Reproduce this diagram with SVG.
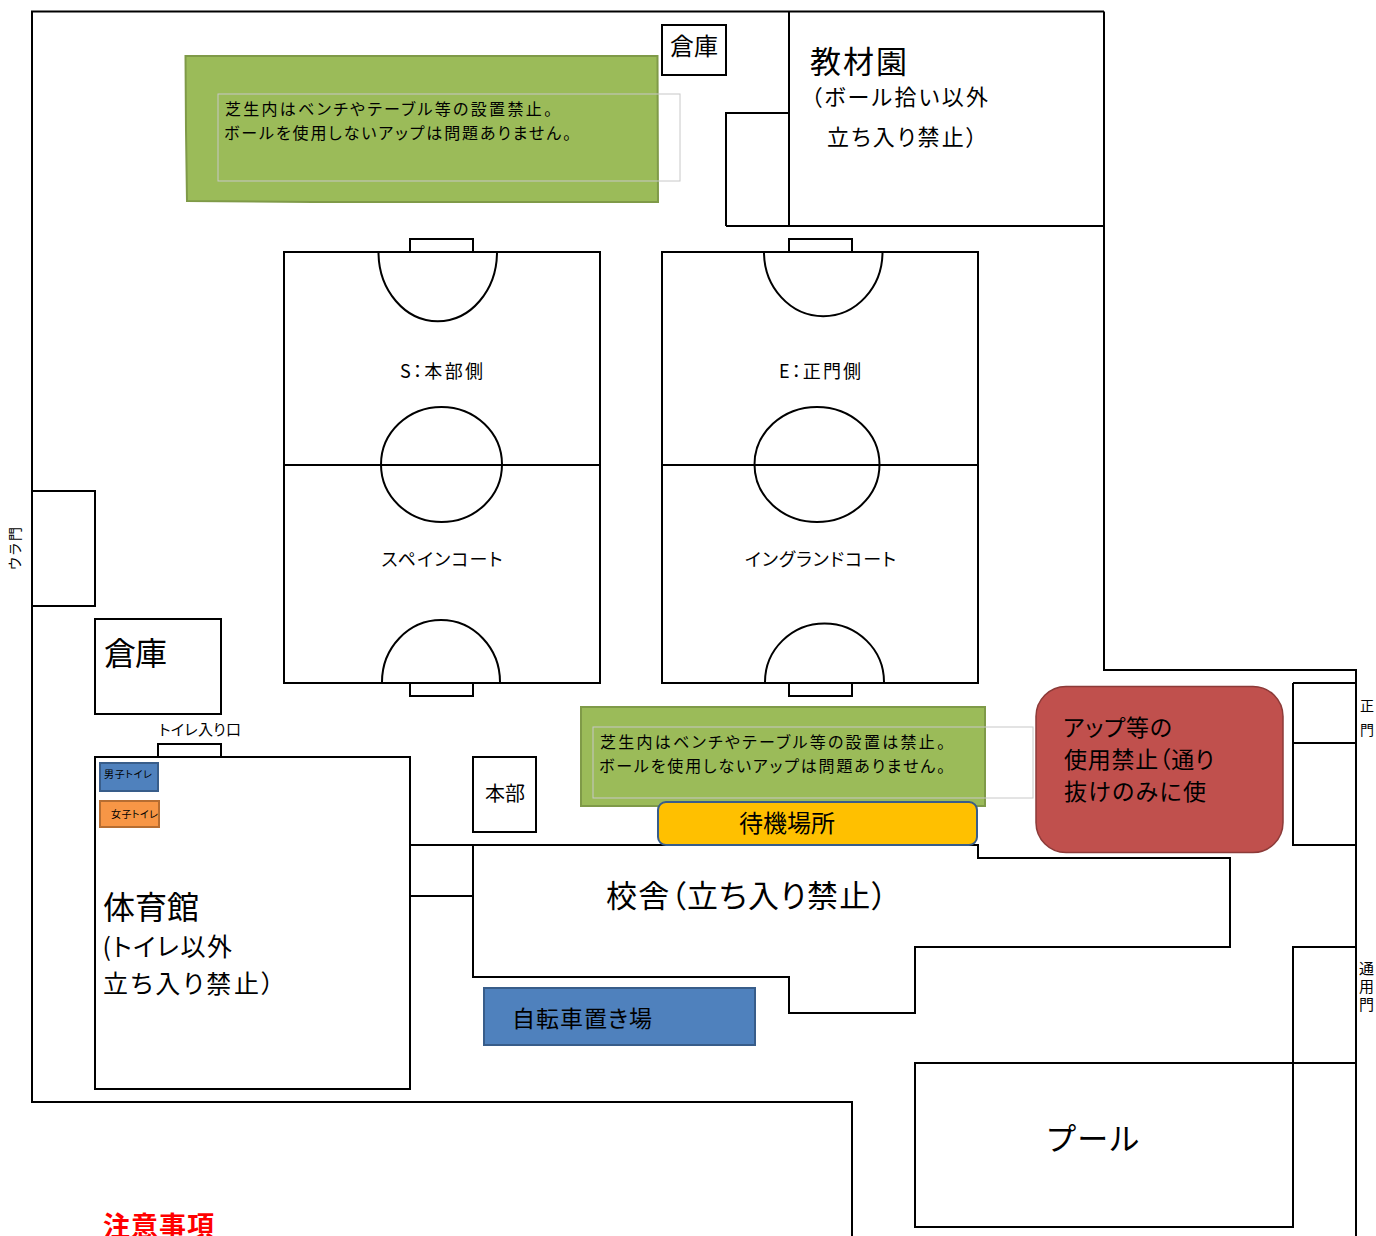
<svg xmlns="http://www.w3.org/2000/svg" width="1376" height="1236" viewBox="0 0 1376 1236">
<style>
text{font-family:"Noto Sans CJK JP","Liberation Sans",sans-serif;fill:#000;font-feature-settings:"palt"}
.l{fill:none;stroke:#000;stroke-width:2}
.t{fill:none;stroke:#c8c8c8;stroke-width:1}
.g{fill:#9bbb59;stroke:#7f9a48;stroke-width:2}
</style>
<rect width="1376" height="1236" fill="#fff"/>
<g id="site-walls">
<path class="l" d="M1104 11.500H32V1102H852V1236M1104 11.500V670H1356V1236"/>
<path class="l" d="M789 12V226M726 226V113H789M726 226H1104"/>
<path class="l" d="M32 491H95V606H32"/>
<path class="l" d="M1293 683H1357M1293 683V845H1357M1293 743H1357"/>
<path class="l" d="M1357 947H1293V1063H1357"/>
</g>
<g id="lawn-north">
<path class="g" d="M185.500 56H657.500L658 202H313L187 201L186 130Z"/>
<rect class="t" x="218" y="94" width="462" height="87"/>
<text x="225" y="115" font-size="16" textLength="327">芝生内はベンチやテーブル等の設置禁止。</text>
<text x="224" y="139" font-size="16" textLength="347">ボールを使用しないアップは問題ありません。</text>
</g>
<g id="storage-north"><rect class="l" x="662" y="25" width="64" height="50"/><text x="670" y="55" font-size="24" textLength="48">倉庫</text></g>
<g id="garden">
<text x="810" y="73" font-size="31" textLength="97">教材園</text>
<text x="811" y="105" font-size="22" textLength="177">（ボール拾い以外</text>
<text x="827" y="145" font-size="22" textLength="150">立ち入り禁止）</text>
</g>
<g id="court-spain">
<rect class="l" x="284" y="252" width="316" height="431"/>
<path class="l" d="M284 465H600M410 252V239H473V252M410 683V696H473V683"/>
<path class="l" d="M378.500 252A59 69 0 0 0 497 252M382 682A59 62 0 0 1 500 682"/>
<ellipse class="l" cx="441.500" cy="464.500" rx="60.500" ry="57.500"/>
<text x="400" y="378" font-size="18" textLength="83">S：本部側</text>
<text x="381.500" y="565.500" font-size="18" textLength="121">スペインコート</text>
</g>
<g id="court-england">
<rect class="l" x="662" y="252" width="316" height="431"/>
<path class="l" d="M662 465H978M789 252V239H852V252M789 683V696H852V683"/>
<path class="l" d="M764 252A59 64 0 0 0 882.500 252M765 682A59 58 0 0 1 884 682"/>
<ellipse class="l" cx="817" cy="464.500" rx="62.500" ry="57.500"/>
<text x="779" y="378" font-size="18" textLength="82">E：正門側</text>
<text x="745" y="565.500" font-size="18" textLength="151">イングランドコート</text>
</g>
<g id="back-gate-label"><text transform="translate(20 570) rotate(-90)" font-size="14" textLength="43">ウラ門</text></g>
<g id="storage-west"><rect class="l" x="95" y="619" width="126" height="95"/><text x="104" y="665" font-size="32" textLength="63">倉庫</text></g>
<g id="gym">
<rect class="l" x="95" y="757" width="315" height="332"/>
<path class="l" d="M158 757V744H221V757"/>
<text x="159" y="735" font-size="15" textLength="82">トイレ入り口</text>
<text x="103" y="919" font-size="32" textLength="96">体育館</text>
<text x="102.500" y="956" font-size="25" textLength="129.500">(トイレ以外</text>
<text x="103" y="993" font-size="25" textLength="171">立ち入り禁止）</text>
</g>
<g id="toilet-m"><rect x="100" y="763" width="58" height="28" fill="#4f81bd" stroke="#385d8a" stroke-width="2"/><text x="104" y="778" font-size="10" textLength="48">男子トイレ</text></g>
<g id="toilet-f"><rect x="100" y="801" width="59" height="26" fill="#f79646" stroke="#b66d31" stroke-width="2"/><text x="111" y="818" font-size="10" textLength="47">女子トイレ</text></g>
<g id="headquarters"><rect class="l" x="473" y="757" width="63" height="75"/><text x="485" y="801" font-size="20" textLength="40">本部</text></g>
<g id="lawn-south">
<rect class="g" x="581" y="707" width="404" height="99"/>
<rect class="t" x="593" y="727" width="440" height="71"/>
<text x="600" y="748" font-size="16" textLength="345">芝生内はベンチやテーブル等の設置は禁止。</text>
<text x="599" y="772" font-size="16" textLength="346">ボールを使用しないアップは問題ありません。</text>
</g>
<g id="school">
<path class="l" d="M410 845H978V858H1230V947H915V1013H789V977H473V845M410 896H473"/>
<text x="606" y="907" font-size="31" textLength="281">校舎（立ち入り禁止）</text>
</g>
<g id="waiting"><rect x="658" y="802" width="319" height="43" rx="8" fill="#ffc000" stroke="#385d8a" stroke-width="2"/><text x="739" y="832" font-size="24" textLength="96">待機場所</text></g>
<g id="no-use"><rect x="1036" y="686.500" width="247" height="166" rx="30" fill="#c0504d" stroke="#8c3a38" stroke-width="1.500"/>
<text x="1063" y="736" font-size="23" textLength="109">アップ等の</text>
<text x="1064" y="768" font-size="23" textLength="150">使用禁止（通り</text>
<text x="1064" y="800" font-size="23" textLength="142">抜けのみに使</text></g>
<g id="gate-labels">
<text font-size="14"><tspan x="1360" y="711">正</tspan><tspan x="1360" y="735">門</tspan></text>
<text font-size="15"><tspan x="1359" y="974">通</tspan><tspan x="1359" y="992">用</tspan><tspan x="1359" y="1010">門</tspan></text>
</g>
<g id="bike"><rect x="484" y="988" width="271" height="57" fill="#4f81bd" stroke="#385d8a" stroke-width="2"/><text x="512" y="1027" font-size="23" textLength="140">自転車置き場</text></g>
<g id="pool"><path class="l" d="M1293 1063V1227H915V1063H1293"/><text x="1047" y="1150" font-size="31" textLength="92">プール</text></g>
<text id="caution" x="103" y="1236" font-size="27" font-weight="700" textLength="111" style="fill:#ff0000">注意事項</text>
</svg>
